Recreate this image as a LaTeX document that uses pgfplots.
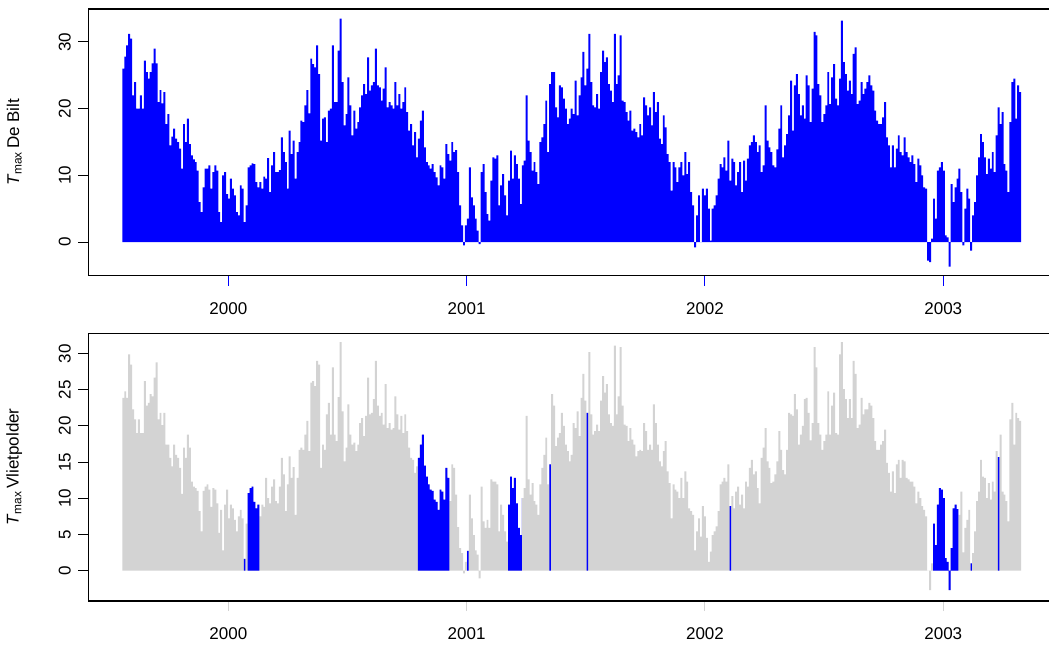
\documentclass[border=0pt]{standalone}
\usepackage{fontspec}
\setmainfont{Liberation Sans}
\usepackage{pgfplots}
\usepackage{pgfplotstable}
\pgfplotsset{compat=1.18}
\definecolor{rblue}{RGB}{0,0,255}
\definecolor{rgray}{RGB}{211,211,211}
% Tmax De Bilt, one value every 3 days from late July 1999 (index 0) to late April 2003
\pgfplotstableread[row sep=\\]{v\\
26\\27.8\\29.5\\31.2\\30.5\\22\\24\\20\\20\\22\\
20\\27.2\\25.5\\24.5\\25.5\\26.8\\29\\26.8\\21\\22.8\\
20.8\\22.5\\17.7\\19.2\\14.5\\15.8\\17\\15.5\\15\\14\\
11\\17.7\\15\\18.5\\14.7\\13\\12.4\\12\\10.7\\6\\
4.5\\8.2\\11\\11\\11.5\\8\\10.5\\11.5\\10.7\\4.5\\
3\\10\\10.5\\7.2\\6.5\\9.5\\8\\7\\4.5\\4\\
8.5\\8\\3\\5.5\\11.2\\11.5\\11.8\\11.7\\9\\8.2\\
9\\8\\9.8\\9.5\\12.6\\7.5\\11.5\\13.5\\10.5\\10.5\\
10.8\\15.7\\13.5\\12\\8\\16.7\\13.2\\15.2\\9.5\\13.5\\
15\\18.2\\18\\20.5\\22.8\\19.3\\27.5\\26.7\\26.2\\29.5\\
25.2\\15.2\\18.5\\18.7\\15\\19.7\\20\\29.5\\21\\21\\
28.7\\33.5\\24\\17.5\\19.2\\24.7\\20.5\\16\\19.7\\17\\
18\\20.2\\22\\23.7\\22.2\\27.7\\22.7\\23.5\\24\\29\\
23.5\\23.2\\21.2\\23\\26.2\\20.2\\21\\20.5\\20\\24\\
20.5\\22.2\\20\\21\\23.2\\19.5\\16.7\\17.7\\14.5\\16.5\\
12.7\\15.5\\18.2\\19.7\\14.2\\12\\11.5\\11\\11.7\\10.5\\
9.7\\8.5\\11.5\\11.2\\9.5\\14.7\\13.2\\12.2\\15\\13.5\\
13.8\\10.5\\5.5\\2.5\\-0.5\\2.5\\3.5\\11.2\\6.7\\5.5\\
3.5\\1.7\\-0.3\\10.5\\11.7\\7.5\\4.2\\3.2\\9.2\\12.7\\
12.5\\13\\5.5\\8.5\\10.2\\7\\4\\9.2\\13.7\\9.5\\
13\\11.7\\9.5\\5.7\\11.5\\12.2\\22\\15.2\\13.5\\10.7\\
12\\10.5\\8.7\\15\\15.7\\17.7\\21.2\\13.5\\23.7\\25.5\\
25.5\\20.2\\18.7\\23.5\\23.2\\21.5\\20\\17.7\\18.5\\20\\
19.2\\24.2\\19\\22\\24.7\\28.5\\23.5\\26\\31.2\\24\\
20.5\\20.2\\22.2\\20\\25.5\\28.7\\27\\27.7\\23.7\\22.7\\
21\\31.2\\23.7\\25\\31\\21.2\\21\\19.5\\18.2\\19.7\\
16.7\\17\\16.5\\15.7\\17.7\\16\\21.7\\20.5\\19\\20.2\\
17.5\\22.5\\19.5\\21\\15.5\\14.7\\19\\17.2\\13.2\\12\\
7.7\\12\\11.2\\9\\11.2\\12\\10\\13.5\\10.2\\12\\
7.5\\5.5\\-0.8\\4\\7\\0\\8\\7\\8\\5\\
0.2\\5\\5.5\\7\\9.5\\11.7\\11.2\\12.7\\10.7\\15.2\\
9.2\\12.5\\12\\8.5\\10.5\\12\\7.5\\12.2\\9.2\\12.5\\
14.5\\15\\16\\15\\13.5\\14.5\\10.5\\11.5\\20.5\\15.2\\
14.2\\13.5\\11.5\\11.2\\13.9\\17\\20.5\\12.7\\14.5\\16.2\\
19\\24.2\\16.7\\23.5\\25.2\\22.2\\19\\20.5\\18.5\\25\\
23.5\\18\\23\\31.5\\31\\23.7\\22\\18\\19.2\\20.5\\
25.5\\20.7\\24.7\\26.7\\21.5\\20.5\\24.5\\33.2\\27\\25.2\\
22.7\\24.2\\22.2\\28.2\\29.2\\20.7\\21.2\\24\\22.2\\23\\
24\\25\\23.5\\22.7\\19.7\\18.2\\17.7\\17.7\\18.7\\21\\
15.7\\14.5\\11.2\\14.5\\11.2\\14\\16\\13.5\\13\\15.7\\
13.5\\12.7\\12\\13\\11.7\\9\\12.5\\11.5\\10\\8.2\\
8\\-2.8\\-3\\0.5\\6.5\\3.5\\10.7\\11.2\\12\\10.7\\
1\\0.7\\-3.7\\8.7\\6\\8.2\\9.5\\11\\7.5\\-0.5\\
5\\8\\6.5\\-1.3\\4\\6\\10\\12.7\\16.2\\15\\
12.7\\10.2\\12.5\\11\\13.5\\10.5\\16\\20.2\\17.7\\19.5\\
11.7\\10.7\\7.5\\18\\24\\24.5\\18.5\\23.5\\22.5\\22.5\\
}\topdata
% Tmax Vlietpolder, same days
\pgfplotstableread[row sep=\\]{w\\
23.9\\24.8\\23.9\\29.9\\28.5\\22.3\\20.9\\19\\20.9\\19\\
19\\26.2\\22.8\\23.2\\24.4\\24.1\\26.7\\28.8\\20.9\\21.8\\
20.1\\21.8\\17.4\\17.4\\15.6\\14.4\\17.4\\16\\15.6\\14.2\\
10.6\\17\\15.6\\18.8\\17\\12.3\\11.6\\11.4\\11\\8.2\\
5.4\\11\\11.6\\11.9\\11.2\\8.8\\11.4\\11.2\\9.3\\5.2\\
8.4\\2.8\\9.1\\11.2\\7.2\\9.1\\8.6\\7\\5.4\\7.5\\
8.4\\7.2\\1.6\\6.5\\10.7\\11.4\\11.6\\9.5\\8.6\\9.1\\
7.5\\9.1\\8.8\\12.8\\10\\9.3\\11.6\\12.6\\9.6\\9.3\\
11.6\\15.6\\13.3\\8.2\\11.9\\15.8\\12.8\\14.3\\7.7\\12.8\\
16.7\\17\\16.7\\18.8\\20.7\\16.5\\26\\26.2\\25.5\\29\\
28.5\\14.2\\17.4\\16.7\\21.6\\23.2\\18.8\\28.1\\18.8\\17.9\\
24\\31.6\\22\\15.1\\17\\23\\18.8\\17.4\\17.7\\16.5\\
17.4\\20.4\\21.1\\18.6\\21.4\\26.7\\21.6\\21.8\\23.7\\29\\
22.8\\21.4\\21.8\\20.2\\25.8\\19.7\\20.4\\19.5\\19.7\\24.1\\
21.6\\19.5\\21.4\\19\\21.6\\19.3\\17\\15.6\\15.3\\13.5\\
14.4\\15.6\\17.4\\18.8\\14.5\\13\\11.9\\11.2\\11\\9.8\\
9.5\\8.4\\11.2\\10.9\\9.8\\14.2\\12.8\\9.6\\14.7\\14.2\\
10.5\\6\\3.1\\2.4\\-0.4\\1.2\\2.7\\10.5\\7.2\\4.9\\
2.8\\2.2\\-1.1\\11.6\\6.8\\5.9\\7\\5.9\\12.6\\12.3\\
12.3\\11.9\\5.4\\9.1\\7.7\\5.4\\4\\9.1\\13\\11.4\\
12.8\\9.3\\5.9\\4.9\\10\\11.4\\21.4\\12.6\\10.5\\12.1\\
9.6\\9.1\\7.7\\11.9\\14.2\\16\\18.4\\11.9\\14.7\\24.4\\
22.8\\17.2\\18.4\\19\\21.8\\20\\17.4\\16.5\\15.1\\16\\
20.4\\19.7\\22\\18.6\\23.9\\27.2\\23.5\\21.8\\30.2\\21.6\\
18.8\\19.3\\20.2\\19.3\\23.5\\26.9\\24.6\\25.8\\21.6\\20.4\\
20\\31.1\\21.6\\24.1\\30.9\\22.8\\20.2\\20\\17.9\\19.7\\
18.1\\17.4\\15.8\\16.5\\16.7\\16.5\\20.4\\19.3\\16.7\\17.4\\
16.7\\23\\20.4\\17.4\\15.1\\14.4\\16.5\\17.9\\13.7\\12.1\\
7.2\\11.9\\11.2\\10.9\\10\\12.8\\10\\13.7\\12.3\\8.6\\
8.2\\7.7\\2.8\\5.4\\7.2\\4.7\\8.9\\7.5\\4.5\\1.2\\
2.6\\4.9\\5.4\\6.1\\8.2\\11.9\\12.3\\12.8\\12.3\\14.7\\
8.9\\10.3\\8.6\\10.9\\11.6\\9.1\\10.5\\8.6\\12.3\\11.6\\
14.2\\15.3\\13.3\\13.7\\11.4\\9.3\\15.6\\17\\19.7\\15.1\\
14.2\\12.1\\12.3\\13.3\\15.1\\19.3\\16.7\\13.9\\13.3\\16.7\\
21.8\\21.6\\21.4\\24.4\\22.3\\17.4\\18.8\\20\\23.7\\23.9\\
21.8\\18\\20.4\\30.9\\28.1\\20.4\\18.8\\16.7\\17.9\\18.8\\
24.8\\18.8\\22.8\\24.6\\19\\18.8\\29.9\\31.6\\25.1\\23.7\\
21.1\\23.7\\21.1\\29\\27.2\\19.7\\20.2\\23.9\\21.6\\22.3\\
22.3\\23.2\\22.8\\21.1\\17.9\\16.7\\16.7\\17.4\\17.9\\19.5\\
14.9\\13.5\\10.9\\13.7\\10.7\\14.7\\15.3\\12.8\\15.3\\15.1\\
12.8\\12.6\\12.3\\12.3\\11.6\\9.3\\10.9\\10\\8.9\\8.4\\
7.5\\0\\-2.7\\1\\6.5\\3.5\\9.1\\11.4\\11.2\\10\\
1.7\\1.2\\-2.7\\3.1\\8.6\\9.1\\8.5\\7.7\\10.9\\2.5\\
5.9\\7\\8.4\\1\\2.4\\5.4\\9.6\\10.9\\15.3\\13\\
12.8\\10\\12.1\\9.8\\12.3\\10.9\\16.5\\15.7\\18.8\\10.9\\
10.5\\9.6\\6.8\\20.9\\23.2\\17.4\\21.8\\21.1\\20.7\\20.7\\
}\botdata
\pgfplotsset{panel/.style={
  scale only axis, width=966.7pt,
  xmin=-17.36, xmax=476.3,
  xtick={54.14,175.84,297.55,419.25},
  xticklabels={2000,2001,2002,2003},
  tick align=outside, tick pos=left, major tick length=10pt,
  axis line style={line width=1.1pt, black},
  ytick style={black, line width=1pt},
  tick label style={font=\fontsize{17}{20}\selectfont, black},
  label style={font=\fontsize{17}{20}\selectfont},
  /pgf/number format/assume math mode=true,
  xticklabel style={yshift=-13pt},
  yticklabel style={xshift=-4pt, rotate=90, anchor=south},
  ylabel style={at={(axis description cs:-0.0765,0.5)}, anchor=center},
}}
\begin{document}
\begin{tikzpicture}
\useasboundingbox (0,0) rectangle (1049pt,645pt);
\begin{axis}[panel,
  at={(88.3pt,369.3pt)}, anchor=south west, height=266.7pt,
  ymin=-5.05, ymax=34.95, ytick={0,10,20,30},
  xtick style={rblue, line width=1pt},
  ylabel={\textit{T}\textsubscript{max}\,De Bilt}]
\addplot[draw=none, fill=rblue, const plot mark left]
  table[x expr=\coordindex, y index=0] {\topdata} \closedcycle;
\end{axis}
\begin{axis}[panel,
  at={(88.3pt,44pt)}, anchor=south west, height=267.7pt,
  ymin=-4.22, ymax=32.82, ytick={0,5,10,15,20,25,30},
  xtick style={rgray, line width=1pt},
  ylabel={\textit{T}\textsubscript{max}\,Vlietpolder}]
\addplot[draw=none, fill=rgray, const plot mark left]
  table[x expr=\coordindex, y index=0] {\botdata} \closedcycle;
\addplot[draw=none, fill=rblue, const plot mark left, restrict x to domain=64:70]
  table[x expr=\coordindex, y index=0] {\botdata} \closedcycle;
\addplot[draw=none, fill=rblue, const plot mark left, restrict x to domain=151:167]
  table[x expr=\coordindex, y index=0] {\botdata} \closedcycle;
\addplot[draw=none, fill=rblue, const plot mark left, restrict x to domain=197:204]
  table[x expr=\coordindex, y index=0] {\botdata} \closedcycle;
\addplot[draw=none, fill=rblue, const plot mark left, restrict x to domain=414:427]
  table[x expr=\coordindex, y index=0] {\botdata} \closedcycle;
\addplot[ybar, bar width=1.4pt, bar shift=0pt, fill=rblue, draw=none, mark=none] coordinates {
  (62.5,1.6) (176.5,2.7) (218.5,14.7) (237.5,21.8) (310.5,8.9) (433.5,1.0) (447.5,15.7)};
\end{axis}
\end{tikzpicture}
\end{document}
